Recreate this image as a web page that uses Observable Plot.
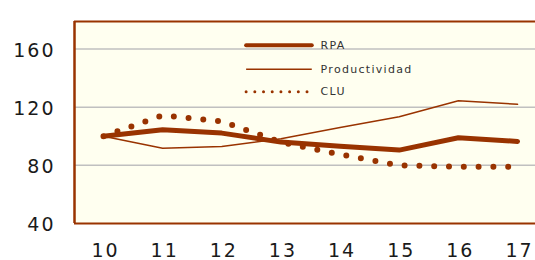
<!DOCTYPE html>
<html><head><meta charset="utf-8">
<script src="https://cdn.jsdelivr.net/npm/d3@7"></script>
<script src="https://cdn.jsdelivr.net/npm/@observablehq/plot@0.6"></script>
<style>
body{margin:0;background:#fff}
svg{display:block}
</style>
</head><body><div id="chart"></div>
<script>
const years = [10, 11, 12, 13, 14, 15, 16, 17];
const rpa = [100, 104.5, 102.2, 96, 93.2, 90.5, 99, 96.5];
const productividad = [100, 91.8, 93, 98.3, 106, 113.5, 124.5, 122];
const clu = [100, 114.4, 110.2, 96, 87.5, 80, 79, 79];
const yTicks = [40, 80, 120, 160];
const gridValues = [80, 120, 160];
const legendLabels = ["RPA", "Productividad", "CLU"];
const legendY = [162.6, 146.2, 130.6];
const legendX = [12.42, 13.53, 13.67]; // line start, line end, text start (data units)

const xDomain = [9.51, 17.304];
const yDomain = [40, 179];
const brown = "#993300";

const row = (vals, s) => years.map((y, i) => ({year: y, value: vals[i], series: s}));
const rpaRows = row(rpa, "RPA");
const prodRows = row(productividad, "Productividad");
const cluRows = row(clu, "CLU");
const legendRows = legendLabels.map((l, i) => ({label: l, y: legendY[i], x1: legendX[0], x2: legendX[1], tx: legendX[2]}));

const chart = Plot.plot({
  width: 535, height: 260,
  marginLeft: 74, marginRight: 0, marginTop: 21, marginBottom: 37,
  style: {fontFamily: "DejaVu Sans", background: "#fff", color: "#1a1a1a"},
  x: {domain: xDomain},
  y: {domain: yDomain},
  marks: [
    Plot.frame({fill: "#fffff0", stroke: "none"}),
    Plot.ruleY(gridValues, {stroke: "#c0c0c0", strokeWidth: 1.5}),
    Plot.ruleY(yDomain, {stroke: brown, strokeWidth: 2}),
    Plot.ruleX([xDomain[0]], {stroke: brown, strokeWidth: 2.5}),
    Plot.line(prodRows, {x: "year", y: "value", stroke: brown, strokeWidth: 1.5}),
    Plot.line(rpaRows, {x: "year", y: "value", stroke: brown, strokeWidth: 5, strokeLinecap: "round", strokeLinejoin: "round"}),
    Plot.line(cluRows, {x: "year", y: "value", stroke: brown, strokeWidth: 6, strokeLinecap: "round", strokeDasharray: "0 14.8"}),
    Plot.ruleY(legendRows.slice(0, 1), {y: "y", x1: "x1", x2: "x2", stroke: brown, strokeWidth: 4, strokeLinecap: "round"}),
    Plot.ruleY(legendRows.slice(1, 2), {y: "y", x1: "x1", x2: "x2", stroke: brown, strokeWidth: 1.5}),
    Plot.ruleY(legendRows.slice(2, 3), {y: "y", x1: "x1", x2: "x2", stroke: brown, strokeWidth: 3, strokeLinecap: "round", strokeDasharray: "0 8.7"}),
    Plot.text(legendRows, {x: "tx", y: "y", text: "label", textAnchor: "start", fontSize: 11, fill: "#333"}),
    Plot.axisY(yTicks, {tickSize: 0, tickPadding: 19, fontSize: 19, dy: 1.5, label: null}),
    Plot.axisX(years, {tickSize: 0, tickPadding: 20, fontSize: 19, dx: 2, label: null})
  ]
});
d3.select(chart).selectAll('g[aria-label="y-axis tick label"] text, g[aria-label="x-axis tick label"] text').attr("letter-spacing", "2px");
d3.select(chart).selectAll('g[aria-label="text"] text').attr("letter-spacing", "1.3px");
document.getElementById("chart").append(chart);
</script>
</body></html>
